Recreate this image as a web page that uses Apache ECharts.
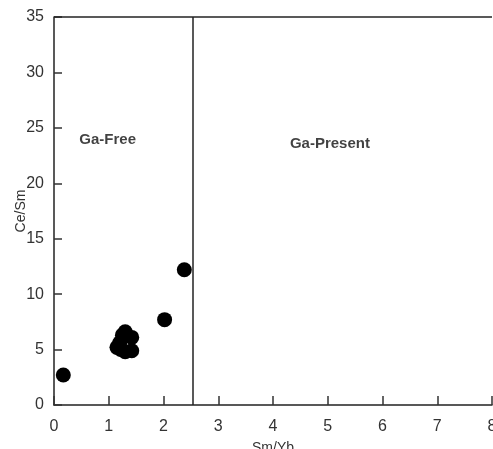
<!DOCTYPE html>
<html>
<head>
<meta charset="utf-8">
<script src="https://cdn.jsdelivr.net/npm/echarts@6/dist/echarts.min.js"></script>
<style>
  html, body { margin: 0; padding: 0; background: #fff; }
  #main { width: 493px; height: 449px; }
</style>
</head>
<body>
<div id="main"></div>
<script>
// Sm/Yb vs Ce/Sm samples
const smYb = [0.17, 2.38, 2.02, 1.15, 1.25, 1.3, 1.42, 1.2, 1.3, 1.42, 1.22];
const ceSm = [2.7, 12.2, 7.7, 5.2, 6.3, 6.6, 6.1, 5.6, 4.8, 4.9, 5.0];
const boundaryX = 2.53;
const xTicks = ['0', '1', '2', '3', '4', '5', '6', '7', '8'];
const fieldLabels = ['Ga-Free', 'Ga-Present'];
const fieldPos = [[0.98, 23.9], [5.04, 23.6]];

var myChart = echarts.init(document.getElementById('main'));
var font = 'Liberation Sans, Arial, sans-serif';
var option;

option = {
    animation: false,
    grid: { left: 54, right: 1, top: 17, bottom: 44, containLabel: false, outerBoundsMode: 'none' },
    xAxis: {
        type: 'value',
        min: 0, max: 8, interval: 1,
        name: 'Sm/Yb',
        nameLocation: 'middle',
        nameGap: 36,
        nameMoveOverlap: false,
        nameTextStyle: { color: '#333', fontSize: 14, fontFamily: font },
        axisLine: { onZero: false, lineStyle: { color: '#222', width: 1.5 } },
        axisTick: { show: true, inside: true, length: 9, lineStyle: { color: '#333', width: 1.5 } },
        axisLabel: { color: '#333', fontSize: 16, fontFamily: font, margin: 14,
            formatter: (v) => xTicks[v] },
        splitLine: { show: false }
    },
    yAxis: {
        type: 'value',
        min: 0, max: 35, interval: 5,
        name: 'Ce/Sm',
        nameLocation: 'middle',
        nameGap: 26,
        nameMoveOverlap: false,
        nameTextStyle: { color: '#333', fontSize: 14, fontFamily: font },
        axisLine: { onZero: false, lineStyle: { color: '#222', width: 1.5 } },
        axisTick: { show: true, inside: true, length: 8, lineStyle: { color: '#333', width: 1.5 } },
        axisLabel: { color: '#333', fontSize: 16, fontFamily: font, margin: 10 },
        splitLine: { show: false }
    },
    series: [
        {
            type: 'scatter',
            data: smYb.map((x, i) => [x, ceSm[i]]),
            symbolSize: 15,
            itemStyle: { color: '#000', opacity: 1 },
            markLine: {
                silent: true,
                symbol: 'none',
                label: { show: false },
                lineStyle: { color: '#222', width: 1.5, type: 'solid' },
                data: [{ xAxis: boundaryX }, { yAxis: 35 }]
            }
        },
        {
            type: 'scatter',
            symbolSize: 0,
            data: fieldPos,
            label: {
                show: true,
                position: 'inside',
                formatter: (p) => fieldLabels[p.dataIndex],
                color: '#111',
                fontSize: 15,
                fontWeight: 'bold',
                fontFamily: font
            }
        }
    ]
};

option && myChart.setOption(option);
</script>
</body>
</html>
